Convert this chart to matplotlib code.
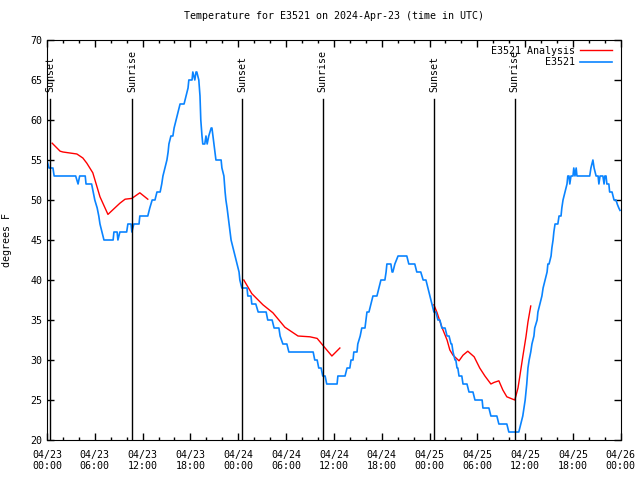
import numpy as np
import pandas as pd
import matplotlib
matplotlib.use('Agg')
import matplotlib.pyplot as plt
import matplotlib.dates as mdates

plt.rcParams['font.family'] = ['DejaVu Sans Mono']

start = pd.Timestamp('2024-04-23 00:00')

# observed temperature, hours since 04/23 00:00 UTC
obs_hours = [0.0, 0.25, 0.75, 0.9, 3.6, 3.9, 4.1, 4.8, 4.9, 5.6, 5.8, 6.0, 6.3, 6.5, 6.65, 6.9,
             7.15, 8.3, 8.4, 8.8, 8.9, 9.15, 10.0, 10.15, 10.55, 10.65, 10.9, 11.55, 11.65, 12.65,
             12.9, 13.2, 13.55, 13.8, 14.2, 14.4, 14.55, 14.8, 15.05, 15.2, 15.3, 15.55, 15.8, 15.95,
             16.2, 16.45, 16.7, 17.2, 17.45, 17.7, 17.8, 18.2, 18.3, 18.55, 18.7, 18.8, 19.05, 19.2,
             19.3, 19.45, 19.55, 19.8, 19.95, 20.1, 20.3, 20.6, 20.7, 20.95, 21.2, 21.85, 21.95, 22.2,
             22.35, 22.45, 22.6, 22.85, 23.1, 23.35, 23.6, 23.85, 24.1, 24.2, 24.45, 25.1, 25.2, 25.6,
             25.7, 26.2, 26.5, 27.5, 27.7, 28.25, 28.5, 29.1, 29.25, 29.6, 30.1, 30.35, 33.4, 33.6,
             33.9, 34.1, 34.4, 34.6, 34.9, 35.1, 36.4, 36.5, 37.4, 37.65, 38.0, 38.15, 38.4, 38.5,
             38.9, 39.0, 39.3, 39.5, 39.9, 40.15, 40.4, 40.65, 40.9, 41.4, 41.65, 41.9, 42.4, 42.55,
             42.65, 43.15, 43.3, 43.4, 43.65, 44.05, 45.15, 45.4, 46.15, 46.4, 46.9, 47.2, 47.55, 47.8,
             48.05, 48.3, 48.55, 48.8, 49.05, 49.3, 49.55, 49.95, 50.2, 50.45, 50.7, 50.8, 50.95, 51.2,
             51.3, 51.45, 51.55, 51.7, 52.05, 52.2, 52.7, 52.95, 53.45, 53.7, 54.6, 54.7, 55.45, 55.7,
             56.45, 56.7, 57.7, 57.95, 59.2, 59.45, 59.7, 59.85, 60.0, 60.1, 60.2, 60.35, 60.5, 60.7,
             60.85, 61.1, 61.2, 61.5, 61.6, 61.85, 62.1, 62.25, 62.5, 62.75, 62.85, 63.0, 63.25, 63.35,
             63.5, 63.6, 63.75, 64.1, 64.25, 64.5, 64.6, 64.75, 65.0, 65.25, 65.35, 65.5, 65.6, 65.75,
             66.0, 66.1, 66.25, 66.4, 66.5, 67.1, 68.1, 68.25, 68.5, 68.65, 68.9, 69.15, 69.25, 69.4,
             69.75, 69.9, 70.0, 70.15, 70.25, 70.5, 70.6, 70.9, 71.15, 71.4, 71.55, 71.75, 71.9]
obs_temp = [55, 54, 54, 53, 53, 52, 53, 53, 52, 52, 51, 50, 49, 48, 47, 46,
            45, 45, 46, 46, 45, 46, 46, 47, 47, 46, 47, 47, 48, 48,
            49, 50, 50, 51, 51, 52, 53, 54, 55, 56, 57, 58, 58, 59,
            60, 61, 62, 62, 63, 64, 65, 65, 66, 65, 66, 66, 65, 63,
            60, 58, 57, 57, 58, 57, 58, 59, 59, 57, 55, 55, 54, 53,
            51, 50, 49, 47, 45, 44, 43, 42, 41, 40, 39, 39, 38, 38,
            37, 37, 36, 36, 35, 35, 34, 34, 33, 32, 32, 31, 31, 30,
            30, 29, 29, 28, 28, 27, 27, 28, 28, 29, 29, 30, 30, 31,
            31, 32, 33, 34, 34, 36, 36, 37, 38, 38, 39, 40, 40, 41,
            42, 42, 41, 41, 42, 43, 43, 42, 42, 41, 41, 40, 40, 39,
            38, 37, 36, 36, 35, 35, 34, 34, 33, 33, 32, 32, 31, 30,
            30, 29, 29, 28, 28, 27, 27, 26, 26, 25, 25, 24, 24, 23,
            23, 22, 22, 21, 21, 22, 23, 24, 25, 26, 27, 29, 30, 31,
            32, 33, 34, 35, 36, 37, 38, 39, 40, 41, 42, 42, 43, 44,
            45, 46, 47, 47, 48, 48, 49, 50, 51, 52, 53, 53, 52, 53,
            53, 54, 53, 54, 53, 53, 53, 54, 55, 54, 53, 53, 52, 53,
            53, 52, 53, 53, 52, 52, 51, 51, 50, 50, 49.5, 49, 48.7]

# analysis series (gaps as nan)
ana_hours = [0.65, 1.65, 2.0, 3.75, 4.5, 5.0, 5.75, 6.65, 7.65, 9.15, 9.8, 10.65, 11.65, 12.65,
             np.nan,
             24.7, 25.7, 27.1, 28.35, 29.85, 31.5, 33.0, 33.9, 34.9, 35.75, 36.75,
             np.nan,
             48.55, 48.95, 49.55, 50.2, 50.55, 50.95, 51.7, 52.2, 52.8, 53.6, 54.3, 54.95, 55.7,
             56.1, 56.7, 57.2, 57.7, 58.7, 59.1, 59.35, 59.7, 60.1, 60.35, 60.7]
ana_temp = [57.1, 56.1, 56.0, 55.75, 55.25, 54.6, 53.4, 50.4, 48.2, 49.6, 50.1, 50.2, 50.9, 50.1,
            np.nan,
            40.0, 38.3, 36.9, 35.9, 34.1, 33.0, 32.9, 32.7, 31.5, 30.5, 31.5,
            np.nan,
            36.9, 35.9, 34.1, 32.5, 31.25, 30.6, 29.9, 30.6, 31.1, 30.4, 29.0, 28.0, 27.0,
            27.2, 27.4, 26.25, 25.4, 25.0, 26.5, 28.1, 30.4, 32.9, 34.75, 36.75]

event_hours = [0.4, 10.67, 24.47, 34.6, 48.55, 58.7]
event_names = ['Sunset', 'Sunrise', 'Sunset', 'Sunrise', 'Sunset', 'Sunrise']


def to_time(h):
    h = np.asarray(h, dtype=float)
    t = start + pd.to_timedelta(np.nan_to_num(h), unit='h')
    t = pd.Series(t)
    t[np.isnan(h)] = pd.NaT
    return t


fs = 7.2
fig = plt.figure(figsize=(6.4, 4.8), dpi=100)
ax = fig.add_axes([0.0734, 0.0833, 0.8966, 0.8334])

ax.plot(to_time(ana_hours), ana_temp, color='#ff0000', lw=1.0, label='E3521 Analysis')
ax.plot(to_time(obs_hours), obs_temp, color='#0a84ff', lw=1.2, label='E3521')

# sunrise / sunset markers
for h, name in zip(event_hours, event_names):
    t = start + pd.Timedelta(hours=h)
    ax.plot([t, t], [20, 62.6], color='black', lw=1.0)
    ax.text(t, 63.5, name, rotation=90, ha='center', va='bottom', fontsize=fs)

ax.set_xlim(start, start + pd.Timedelta(hours=72))
ax.set_ylim(20, 70)
ax.set_yticks(np.arange(20, 71, 5))
ax.xaxis.set_major_locator(mdates.HourLocator(byhour=[0, 6, 12, 18]))
ax.xaxis.set_minor_locator(mdates.HourLocator(byhour=range(0, 24, 2)))
ax.xaxis.set_major_formatter(mdates.DateFormatter('%m/%d\n%H:%M'))
ax.tick_params(which='both', direction='in', top=True, right=True, labelsize=fs, width=1)
ax.tick_params(which='major', length=5)
ax.tick_params(which='minor', length=2.5)
ax.tick_params(axis='x', pad=7)

ax.set_ylabel('degrees F', fontsize=fs, labelpad=13)
ax.set_title('Temperature for E3521 on 2024-Apr-23 (time in UTC)', fontsize=fs, pad=15)

ax.legend(loc='upper right', frameon=False, markerfirst=False, fontsize=fs,
          handlelength=3.2, handletextpad=0.5, labelspacing=0.15,
          borderaxespad=0.2, bbox_to_anchor=(0.995, 1.0))

plt.savefig('out.png', dpi=100)
